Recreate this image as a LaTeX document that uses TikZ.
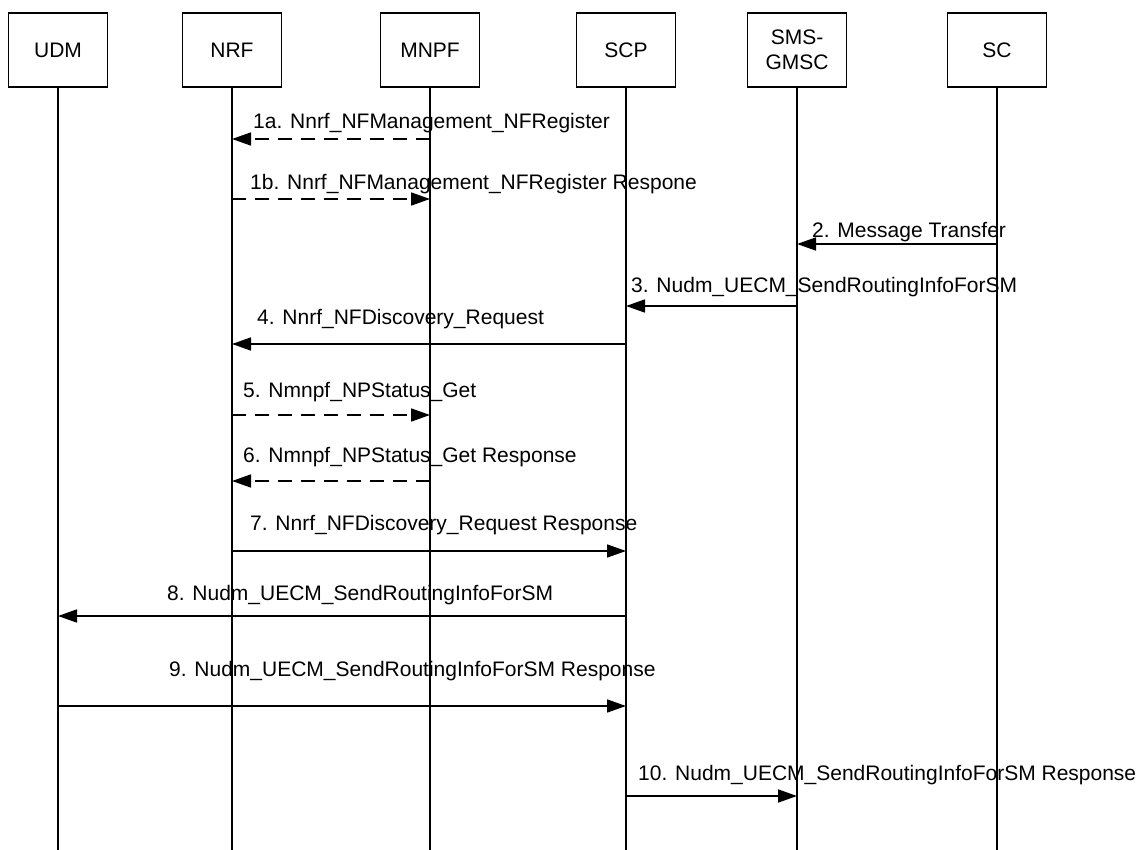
\documentclass[tikz,border=0pt]{standalone}
\usepackage{fontspec}
\setmainfont{Liberation Sans}
\usetikzlibrary{arrows.meta}
\tikzset{
  ent/.style={draw, line width=1.5pt, minimum width=99pt, minimum height=74pt, inner sep=0pt, align=center, font=\fontsize{21pt}{25pt}\selectfont},
  life/.style={line width=1.5pt},
  msg/.style={line width=1.7pt, -{Triangle[length=19pt,width=13pt]}},
  msgdash/.style={msg, dash pattern=on 14pt off 9pt},
  lbl/.style={anchor=base west, inner sep=0pt, font=\fontsize{21pt}{25pt}\selectfont}
}
\begin{document}
\begin{tikzpicture}[x=1pt,y=-1pt]
\useasboundingbox[fill=white] (0,0) rectangle (1146,850);
\coordinate (bottom) at (0,850);
% entities
\node[ent] (udm)  at (58,50)  {UDM};
\node[ent] (nrf)  at (232,50) {NRF};
\node[ent] (mnpf) at (430,50) {MNPF};
\node[ent] (scp)  at (626,50) {SCP};
\node[ent] (gmsc) at (797,50) {SMS-\\GMSC};
\node[ent] (sc)   at (997,50) {SC};
% lifelines
\foreach \n in {udm,nrf,mnpf,scp,gmsc,sc}
  \draw[life] (\n.south) -- (\n.south |- bottom);
% message end points
\path (mnpf.south |- 0,139) coordinate (a1s) (nrf.south |- 0,139) coordinate (a1e)
      (nrf.south |- 0,199) coordinate (b1s) (mnpf.south |- 0,199) coordinate (b1e)
      (sc.south |- 0,244) coordinate (m2s) (gmsc.south |- 0,244) coordinate (m2e)
      (gmsc.south |- 0,306) coordinate (m3s) (scp.south |- 0,306) coordinate (m3e)
      (scp.south |- 0,344) coordinate (m4s) (nrf.south |- 0,344) coordinate (m4e)
      (nrf.south |- 0,415) coordinate (m5s) (mnpf.south |- 0,415) coordinate (m5e)
      (mnpf.south |- 0,481) coordinate (m6s) (nrf.south |- 0,481) coordinate (m6e)
      (nrf.south |- 0,551) coordinate (m7s) (scp.south |- 0,551) coordinate (m7e)
      (scp.south |- 0,616) coordinate (m8s) (udm.south |- 0,616) coordinate (m8e)
      (udm.south |- 0,706) coordinate (m9s) (scp.south |- 0,706) coordinate (m9e)
      (scp.south |- 0,796) coordinate (m10s) (gmsc.south |- 0,796) coordinate (m10e);
% messages
\draw[msgdash] (a1s) -- (a1e);
\node[lbl] (l1a) at (253,128.5) {1a. Nnrf\_NFManagement\_NFRegister};
\draw[msgdash] (b1s) -- (b1e);
\node[lbl] (l1b) at (250,189.5) {1b. Nnrf\_NFManagement\_NFRegister Respone};
\draw[msg] (m2s) -- (m2e);
\node[lbl] (l2) at (812,237.5) {2. Message Transfer};
\draw[msg] (m3s) -- (m3e);
\node[lbl] (l3) at (631,292.5) {3. Nudm\_UECM\_SendRoutingInfoForSM};
\draw[msg] (m4s) -- (m4e);
\node[lbl] (l4) at (257,324.5) {4. Nnrf\_NFDiscovery\_Request};
\draw[msgdash] (m5s) -- (m5e);
\node[lbl] (l5) at (243,397.5) {5. Nmnpf\_NPStatus\_Get};
\draw[msgdash] (m6s) -- (m6e);
\node[lbl] (l6) at (243,462.5) {6. Nmnpf\_NPStatus\_Get Response};
\draw[msg] (m7s) -- (m7e);
\node[lbl] (l7) at (250,530.5) {7. Nnrf\_NFDiscovery\_Request Response};
\draw[msg] (m8s) -- (m8e);
\node[lbl] (l8) at (167,600.5) {8. Nudm\_UECM\_SendRoutingInfoForSM};
\draw[msg] (m9s) -- (m9e);
\node[lbl] (l9) at (169,676.5) {9. Nudm\_UECM\_SendRoutingInfoForSM Response};
\draw[msg] (m10s) -- (m10e);
\node[lbl] (l10) at (638,780.5) {10. Nudm\_UECM\_SendRoutingInfoForSM Response};
\end{tikzpicture}
\end{document}
